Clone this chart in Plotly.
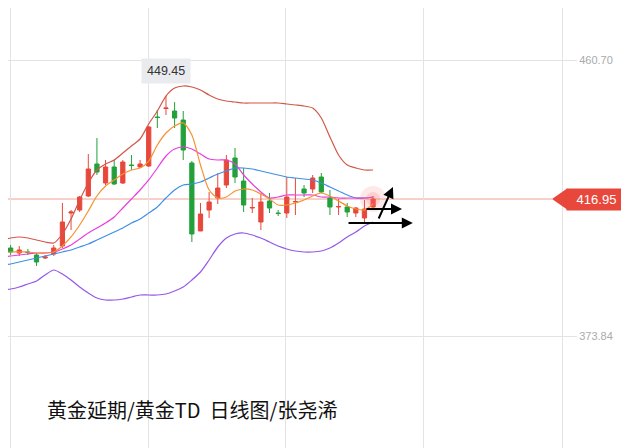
import plotly.graph_objects as go

# ---- data ----
idx = list(range(44))
open_ = [399.96, 401.54, 399.96, 400.28, 399.33, 398.39, 399.65, 402.16, 412.55, 413.49,
         417.90, 427.97, 421.99, 427.03, 421.99, 427.66, 427.03, 427.34, 442.76, 445.44,
         444.65, 441.82, 428.29, 406.89, 413.49, 417.27, 421.36, 429.86, 422.62, 414.12,
         409.72, 416.33, 412.55, 412.55, 416.01, 420.10, 420.10, 423.88, 417.27, 414.44,
         414.44, 412.55, 410.98, 414.44]
high = [401.85, 402.48, 402.16, 401.22, 399.96, 399.33, 402.48, 415.70, 413.49, 417.90,
        431.12, 436.15, 429.23, 429.23, 429.23, 430.80, 429.23, 439.93, 444.97, 449.45,
        447.48, 444.65, 428.91, 415.70, 419.16, 425.14, 430.80, 433.01, 426.71, 417.27,
        418.84, 418.84, 413.49, 423.88, 423.56, 421.36, 424.51, 425.14, 419.79, 416.96,
        415.70, 414.44, 416.64, 417.90]
low = [398.70, 399.33, 399.02, 399.33, 395.87, 398.07, 399.02, 401.54, 407.20, 412.86,
       417.58, 424.51, 421.36, 421.36, 421.68, 426.08, 426.71, 427.03, 439.30, 443.39,
       439.30, 429.23, 403.42, 406.89, 410.98, 415.38, 420.42, 421.99, 412.86, 412.55,
       407.20, 412.55, 411.61, 410.98, 411.92, 417.58, 418.84, 418.84, 411.92, 411.92,
       411.29, 411.29, 409.09, 414.12]
close = [400.91, 400.28, 400.91, 400.12, 397.13, 398.70, 401.54, 409.72, 412.86, 417.58,
         426.40, 425.45, 427.03, 421.68, 428.60, 427.50, 427.97, 439.62, 442.61, 445.59,
         442.45, 432.38, 405.94, 412.24, 416.01, 420.42, 429.23, 423.88, 415.07, 414.28,
         416.01, 414.12, 412.39, 417.58, 416.17, 418.84, 423.56, 419.16, 414.44, 414.60,
         412.86, 414.12, 413.81, 416.95]

ma5 = [399.96, 400.28, 400.28, 400.28, 399.96, 399.96, 400.28, 402.16, 405.00, 408.77,
       413.18, 417.90, 421.05, 422.94, 424.82, 426.08, 426.71, 428.91, 433.95, 437.73,
       439.93, 440.87, 437.10, 427.66, 419.79, 417.27, 417.58, 419.47, 420.10, 419.79,
       418.53, 416.96, 415.07, 415.07, 415.70, 416.64, 417.90, 418.84, 417.90, 416.33,
       414.75, 413.81, 413.49, 415.38]
ma10 = [398.70, 399.02, 399.33, 399.65, 399.96, 399.96, 400.28, 401.22, 402.48, 404.37,
        406.26, 407.83, 409.40, 411.29, 414.12, 416.96, 419.79, 422.94, 426.71, 430.49,
        432.69, 433.32, 432.69, 431.12, 429.54, 429.23, 429.23, 427.97, 424.51, 421.68,
        419.16, 417.27, 417.58, 418.22, 418.22, 418.22, 418.22, 417.58, 417.58, 417.27,
        417.27, 417.27, 417.27, 417.58]
boll_mid = [396.19, 396.50, 397.13, 397.76, 398.39, 399.02, 399.65, 400.28, 400.91, 401.85,
            402.79, 404.05, 405.31, 406.57, 407.83, 409.40, 410.66, 412.55, 414.44, 417.27,
            419.79, 421.36, 421.68, 422.31, 423.56, 424.82, 425.77, 426.71, 426.71, 426.40,
            425.77, 425.14, 424.51, 423.88, 423.56, 423.25, 422.94, 421.99, 420.73, 419.47,
            418.22, 417.27, 417.27, 417.58]
boll_up = [404.05, 404.68, 405.00, 404.68, 404.05, 403.42, 403.11, 405.94, 410.66, 416.64,
           421.99, 426.08, 427.97, 429.23, 431.43, 433.64, 435.84, 440.56, 444.65, 449.37,
           451.89, 452.52, 452.20, 451.26, 449.69, 448.43, 447.80, 447.48, 447.17, 447.17,
           447.17, 447.17, 447.17, 446.85, 446.54, 446.22, 445.59, 442.45, 436.47, 430.80,
           427.66, 426.71, 426.08, 426.08]
boll_dn = [388.32, 388.63, 389.26, 390.21, 391.15, 393.04, 394.61, 393.35, 391.46, 389.26,
           387.37, 385.80, 385.17, 385.17, 385.49, 386.11, 386.74, 386.74, 386.74, 387.06,
           388.00, 389.26, 391.46, 393.98, 397.76, 401.85, 404.68, 405.94, 406.26, 405.63,
           404.68, 403.42, 402.16, 401.22, 400.59, 400.28, 400.28, 400.59, 401.54, 403.11,
           405.00, 406.57, 408.46, 409.72]

y_ticks = [460.70, 373.84]
y_tick_text = ["460.70", "373.84"]
title_text = "黄金延期/黄金TD  日线图/张尧浠"

RED = "#e8473b"
GREEN = "#22a03a"

# page has an 8px body margin: figure occupies page x 8..629, y 8..448
PW = 554.0  # plot width in px (page x 8..562)

fig = go.Figure()

def line(y, color, w=1.2):
    fig.add_trace(go.Scatter(x=idx, y=y, mode="lines", hoverinfo="skip",
                             line=dict(color=color, width=w, shape="spline", smoothing=0.7)))

line(boll_up, "#d4574a")
line(boll_dn, "#9458e8")
line(boll_mid, "#3f8fe6")
line(ma10, "#e83ee0")
line(ma5, "#f7922e")

# glow behind last candle
fig.add_trace(go.Scatter(x=[idx[-1]], y=[close[-1]], mode="markers", hoverinfo="skip",
                         marker=dict(size=26, color="rgba(255,110,110,0.16)", line=dict(width=0))))
fig.add_trace(go.Scatter(x=[idx[-1]], y=[close[-1]], mode="markers", hoverinfo="skip",
                         marker=dict(size=14, color="rgba(255,110,110,0.2)", line=dict(width=0))))

fig.add_trace(go.Candlestick(
    x=idx, open=open_, high=high, low=low, close=close,
    increasing=dict(line=dict(color=RED, width=1), fillcolor=RED),
    decreasing=dict(line=dict(color=GREEN, width=1), fillcolor=GREEN),
    whiskerwidth=0, hoverinfo="skip"))

last = close[-1]
imax = high.index(max(high))

tip = (552 - 8) / PW
base = (566 - 8) / PW
# last price line and tag
fig.add_shape(type="line", xref="paper", yref="y", x0=0, x1=tip, y0=last, y1=last,
              line=dict(color="#f0a394", width=1), layer="below")
fig.add_shape(type="path", xref="paper", yref="y",
              path=f"M {tip} {last} L {base + 0.002} {last + 3.3} L {base + 0.002} {last - 3.3} Z",
              fillcolor=RED, line=dict(width=0))
fig.add_annotation(xref="paper", yref="y", x=base, y=last, xanchor="left", yanchor="middle",
                   text=f"{last:.2f}", showarrow=False, bgcolor=RED,
                   font=dict(color="white", size=13, family="Arial"),
                   borderpad=3, width=53, height=15)

# max label
fig.add_annotation(x=idx[imax], y=high[imax], yref="y", text=f"{high[imax]:.2f}",
                   showarrow=False, yanchor="bottom", yshift=12,
                   bgcolor="#e9ebef", font=dict(color="#333", size=12.5, family="Arial"),
                   borderpad=5)

# hand-drawn arrows
for (x0, y0, x1, y1) in [(39.98, 409.4, 47.6, 409.4),
                         (42.06, 413.8, 46.35, 413.8),
                         (43.57, 410.35, 45.3, 420.73)]:
    fig.add_annotation(x=x1, y=y1, ax=x0, ay=y0, xref="x", yref="y", axref="x", ayref="y",
                       text="", showarrow=True, arrowhead=2, arrowsize=1.1,
                       arrowwidth=2, arrowcolor="#000")

fig.add_annotation(xref="paper", yref="paper", x=(45 - 8) / PW, y=(448 - 409) / 440,
                   xanchor="left", yanchor="middle", text=title_text, showarrow=False,
                   font=dict(size=20, color="#111", family="Noto Sans CJK SC"))

fig.update_layout(
    width=621, height=440, margin=dict(l=0, r=67, t=0, b=0),
    paper_bgcolor="white", plot_bgcolor="white", showlegend=False,
    xaxis=dict(range=[0.695, 64.89], rangeslider=dict(visible=False), showticklabels=False,
               showgrid=True, gridcolor="#e3e3e3", tick0=0.927, dtick=15.99, zeroline=False,
               showline=False, ticks=""),
    yaxis=dict(range=[338.59, 477.07], side="right", tickvals=y_ticks, ticktext=y_tick_text,
               showgrid=True, gridcolor="#e3e3e3", zeroline=False, ticks="outside",
               showline=True, linecolor="#e3e3e3", linewidth=1,
               ticklen=14, tickcolor="#e3e3e3", tickfont=dict(color="#aaaaaa", size=11, family="Arial")),
)

fig.write_html("out.html")
